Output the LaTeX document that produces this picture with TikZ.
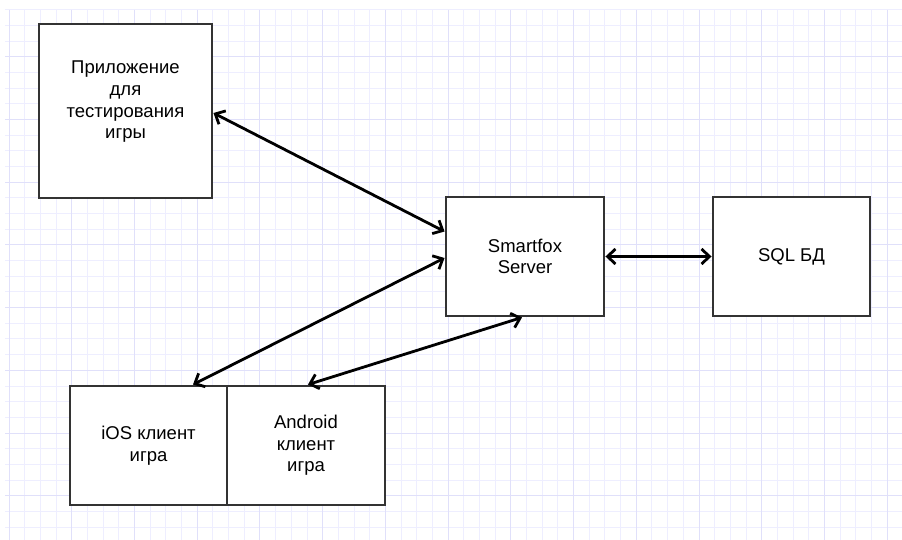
\documentclass[tikz,border=0pt]{standalone}
\usepackage{fontspec}
\setmainfont{Liberation Sans}
\usetikzlibrary{arrows.meta}
\definecolor{gridminor}{RGB}{238,238,255}
\definecolor{gridmajor}{RGB}{224,224,250}
\tikzset{
  box/.style={draw=black!80, line width=2.9pt, fill=white, inner sep=0pt},
  lbl/.style={align=center, font=\fontsize{18.5}{21.7}\selectfont},
  link/.style={<->, line width=2.8pt, line cap=round, line join=round}
}
\begin{document}
\begin{tikzpicture}[x=1pt, y=-1pt, >={Straight Barb[length=8pt,width=15pt]}]
	\useasboundingbox (0,0) rectangle (902,540);
	\fill[white] (0,0) rectangle (902,540);
	% grid
	\foreach \i in {0,...,57}
		\draw[gridminor, line width=1pt] (9.1+15.68*\i,9.7)--(9.1+15.68*\i,540);
	\foreach \j in {0,...,33}
		\draw[gridminor, line width=1pt] (5,9.7+15.68*\j)--(902,9.7+15.68*\j);
	\foreach \i in {0,4,...,56}
		\draw[gridmajor, line width=1pt] (9.1+15.68*\i,9.7)--(9.1+15.68*\i,540);
	\foreach \j in {3,7,...,31}
		\draw[gridmajor, line width=1pt] (5,9.7+15.68*\j)--(902,9.7+15.68*\j);
	% boxes
	\node[box, minimum width=173pt, minimum height=174pt] (app) at (125.5,111) {};
	\node[lbl] (applbl) at (125.5,102) {Приложение\\для\\тестирования\\игры};
	\node[box, lbl, minimum width=158pt, minimum height=119pt] (srv) at (525,256.5) {Smartfox\\Server};
	\node[box, lbl, minimum width=157pt, minimum height=119pt] (sql) at (791.5,256.5) {SQL БД};
	\node[box, lbl, minimum width=157pt, minimum height=119pt] (ios) at (148.5,445.5) {iOS клиент\\игра};
	\node[box, lbl, minimum width=158pt, minimum height=119pt] (andr) at (306,445.5) {Android\\клиент\\игра};
	% links
	\draw[link] ([yshift=-2pt]app.east)--([yshift=25pt]srv.west);
	\draw[link] ([yshift=-1.5pt]srv.west)--([xshift=44.5pt]ios.north);
	\draw[link] ([xshift=-3pt]srv.south)--([xshift=2pt]andr.north);
	\draw[link] (srv.east)--(sql.west);
\end{tikzpicture}
\end{document}
